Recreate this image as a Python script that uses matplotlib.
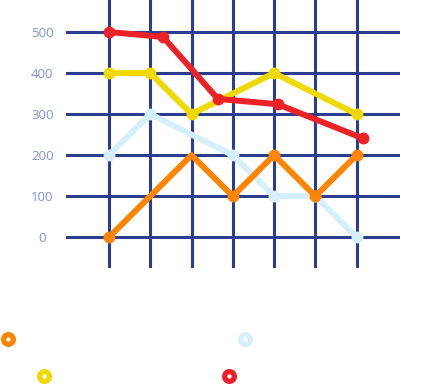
import matplotlib.pyplot as plt

# values
orange_x = [0, 2, 3, 4, 5, 6]
orange_y = [0, 200, 100, 200, 100, 200]
blue_x = [0, 1, 3, 4, 5, 6]
blue_y = [200, 300, 200, 100, 100, 0]
yellow_x = [0, 1, 2, 4, 6]
yellow_y = [400, 400, 300, 400, 300]
red_x = [0, 1.31, 2.64, 4.09, 6.15]
red_y = [500, 488, 337, 324, 241]
y_ticks = [0, 100, 200, 300, 400, 500]

colors = {"orange": "#ff8500", "blue": "#d5effc", "yellow": "#f0d900", "red": "#ec2227"}
grid_color = "#2b3d8f"

fig = plt.figure(figsize=(4.29, 3.86), dpi=100)
W, H = 429, 386
ax = fig.add_axes([66 / W, 1 - 268 / H, (400 - 66) / W, 268 / H])
ax.set_xlim(-1.04, 7.05)
ax.set_ylim(-75, 578)

for v in range(7):
    ax.axvline(v, color=grid_color, lw=2.2, zorder=1)
for v in y_ticks:
    ax.axhline(v, color=grid_color, lw=2.2, zorder=1)

ax.set_xticks([])
ax.set_yticks(y_ticks)
ax.set_yticklabels([str(v) for v in y_ticks], color="#8092d4", fontsize=9.5,
                   family=["Open Sans", "DejaVu Sans"], ha="center")
ax.tick_params(axis="y", length=0, pad=17)
for s in ax.spines.values():
    s.set_visible(False)

lw, ms = 4.3, 7.5
ax.plot(blue_x, blue_y, color=colors["blue"], lw=lw, marker="o", ms=ms, zorder=2)
# the orange peak at x=2 has no dot in the original
ax.plot(orange_x, orange_y, color=colors["orange"], lw=lw, marker="o", ms=ms,
        markevery=[0, 2, 3, 4, 5], zorder=3)
ax.plot(yellow_x, yellow_y, color=colors["yellow"], lw=lw, marker="o", ms=ms, zorder=4)
ax.plot(red_x, red_y, color=colors["red"], lw=lw, marker="o", ms=ms, zorder=5)

# legend rings (no labels in the original)
legend_pos = {"orange": (8, 339), "blue": (245, 339), "yellow": (44, 376), "red": (229, 376)}
for name, (px, py) in legend_pos.items():
    fig.add_artist(plt.Line2D([px / W], [1 - py / H], transform=fig.transFigure,
                              marker="o", ms=7, mew=3.8, mfc="white",
                              mec=colors[name], ls="none"))

fig.savefig("out.png", dpi=100, facecolor="white")
